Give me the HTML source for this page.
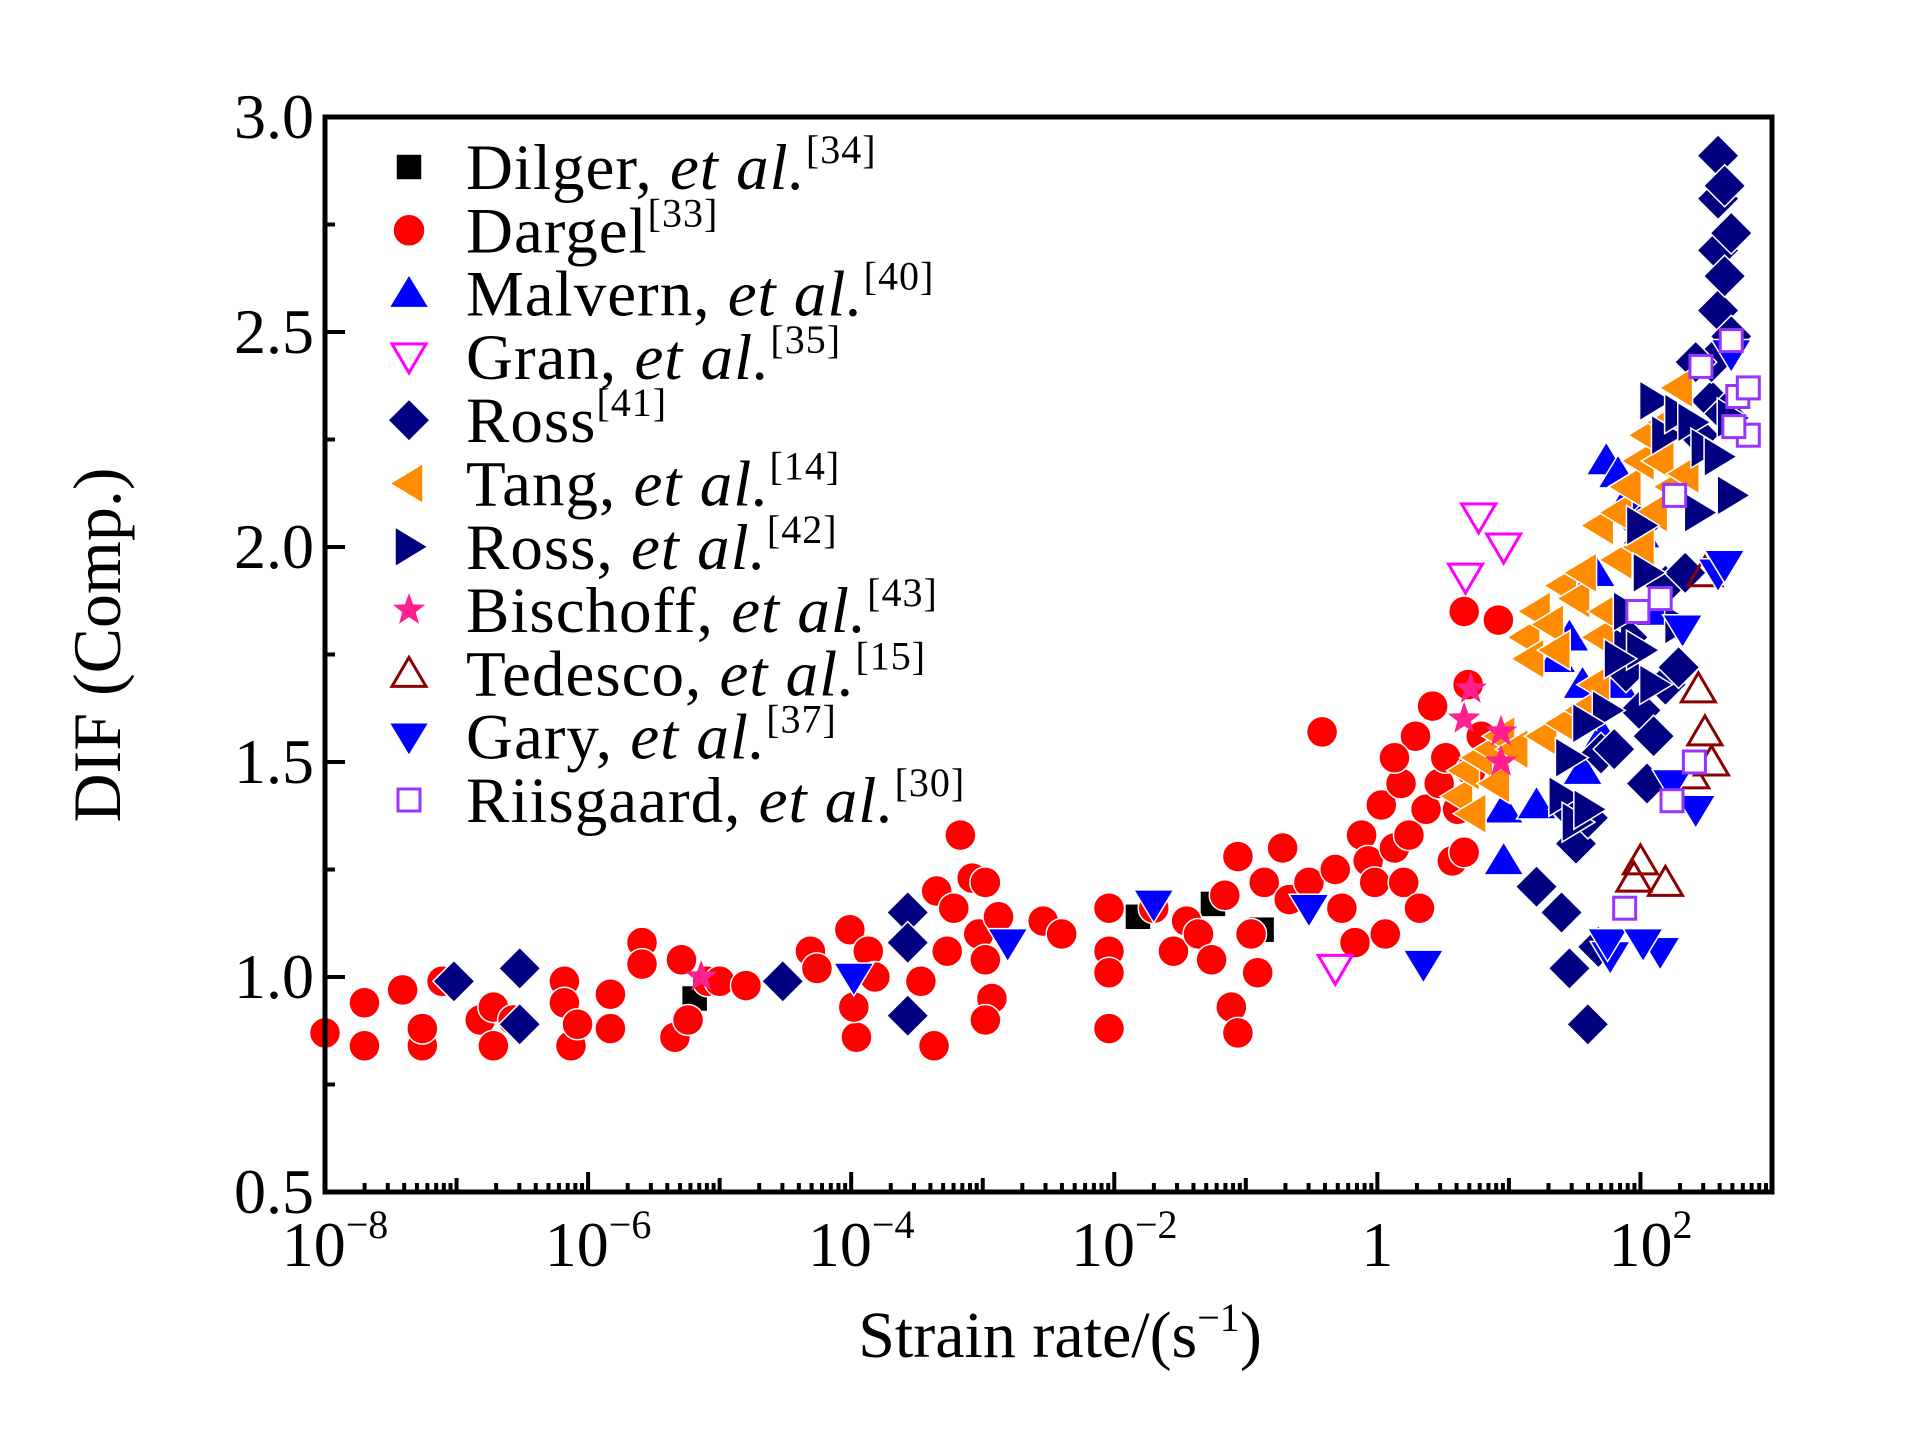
<!DOCTYPE html>
<html><head><meta charset="utf-8"><style>
html,body{margin:0;padding:0;background:#fff;}
svg text{font-family:"Liberation Serif",serif;fill:#000;}
</style></head><body>
<svg id="chart" width="1923" height="1429" viewBox="0 0 1923 1429" xmlns="http://www.w3.org/2000/svg">
<g id="marks"></g>
<g id="axes"></g>
<g id="legend"></g>
<text x="1060" y="1357" font-size="66" text-anchor="middle">Strain rate/(s<tspan dy="-26" font-size="40">−1</tspan><tspan dy="26">)</tspan></text>
<text transform="translate(120,645) rotate(-90)" font-size="68" text-anchor="middle">DIF (Comp.)</text>
</svg>
<script>
// ---- data (x = log10 strain rate, y = DIF) ----
const seriesNames = ["Dilger","Dargel","Malvern","Gran","Ross","Tang","RossEtAl","Bischoff","Tedesco","Gary","Riisgaard"];
const dilgerX=[-5.19,-1.82,-1.25,-0.88];
const dilgerY=[0.95,1.14,1.17,1.11];
const dargelX=[-8,-7.7,-7.7,-7.41,-7.26,-7.26,-7.11,-6.82,-6.72,-6.72,-6.57,-6.18,-6.18,-6.13,-6.08,-5.83,-5.83,-5.59,-5.59,-5.29,-5.34,-5.24,-5.09,-5.0,-4.8,-4.31,-4.26,-4.01,-3.96,-3.98,-3.87,-3.82,-3.47,-3.37,-3.35,-3.17,-3.22,-3.08,-2.98,-3.27,-3.03,-2.98,-2.93,-2.98,-2.88,-2.54,-2.4,-2.04,-2.04,-2.04,-2.04,-1.7,-1.55,-1.45,-1.36,-1.26,-1.16,-1.06,-1.11,-1.06,-0.96,-0.91,-0.86,-0.72,-0.67,-0.42,-0.52,-0.32,-0.27,-0.17,-0.12,-0.07,-0.02,0.03,0.13,0.18,0.2,0.24,0.29,0.32,0.37,0.42,0.47,0.52,0.57,0.61,0.66,0.69,0.71,0.79,0.92,0.66,0.06,0.13];
const dargelY=[0.87,0.84,0.94,0.97,0.84,0.88,0.99,0.9,0.84,0.93,0.9,0.99,0.94,0.84,0.89,0.88,0.96,1.08,1.03,1.04,0.86,0.9,0.99,0.99,0.98,1.06,1.02,1.11,0.86,0.93,1.06,1.0,0.99,0.84,1.2,1.33,1.16,1.23,1.22,1.06,1.1,1.04,0.95,0.9,1.14,1.13,1.1,0.88,1.06,1.01,1.16,1.16,1.06,1.13,1.1,1.04,1.19,1.28,0.93,0.87,1.1,1.01,1.22,1.3,1.18,1.57,1.22,1.25,1.16,1.08,1.33,1.27,1.22,1.4,1.3,1.45,1.22,1.33,1.56,1.16,1.39,1.63,1.45,1.51,1.27,1.39,1.85,1.68,1.48,1.56,1.83,1.29,1.1,1.51];
const malvernX=[0.96,0.96,1.21,1.56,1.66,1.74,1.83,1.9,2.0,2.1,1.56,1.71,1.83,1.36,1.46];
const malvernY=[1.27,1.39,1.4,1.68,1.94,2.2,2.17,2.11,2.03,1.85,1.48,1.56,1.68,1.74,1.79];
const granX=[-0.32,0.67,0.77,0.96];
const granY=[1.02,1.93,2.07,2.0];
const rossX=[-7.02,-6.52,-6.52,-4.52,-3.57,-3.57,-3.57,1.21,1.4,1.46,1.6,1.68,1.46,1.51,1.6,1.7,1.8,1.89,2.0,2.1,2.05,2.19,2.29,2.19,2.34,2.44,2.54,2.59,2.59,2.59,2.59,2.64,2.69,2.69,2.54,2.64,2.64,2.42,2.0,1.9];
const rossY=[0.99,1.02,0.89,0.99,1.15,1.08,0.91,1.21,1.15,1.02,0.89,1.07,1.39,1.31,1.37,1.52,1.53,1.71,1.62,1.56,1.45,1.68,1.72,1.91,1.94,2.26,2.34,2.55,2.69,2.81,2.91,2.63,2.49,2.73,2.43,2.84,2.31,2.43,2.05,1.79];
const tangX=[0.62,0.67,0.77,0.87,0.94,1.04,1.13,1.16,1.21,1.31,1.36,1.41,1.51,1.56,1.26,1.41,1.56,1.66,1.69,1.74,1.83,1.69,1.83,1.9,2.0,2.05,2.15,2.19,2.29,2.1,2.24,2.34,2.0,0.9,0.72];
const tangY=[1.42,1.48,1.51,1.53,1.56,1.53,1.79,1.74,1.85,1.82,1.76,1.91,1.88,1.94,1.56,1.59,1.62,1.68,1.79,1.85,1.97,2.05,2.08,2.14,2.2,2.26,2.2,2.29,2.37,2.08,2.14,2.17,2.0,1.45,1.38];
const rossEtAlX=[2.1,2.19,2.29,2.39,2.49,2.59,2.69,2.69,2.0,2.05,1.9,2.0,1.83,1.74,1.59,1.46,1.41,1.51,1.6,2.1,2.29,2.44];
const rossEtAlY=[2.34,2.26,2.31,2.29,2.23,2.21,2.3,2.12,2.05,1.94,1.85,1.76,1.74,1.62,1.59,1.51,1.42,1.36,1.39,1.68,1.82,2.08];
const bischoffX=[-5.14,0.71,0.66,0.94,0.94];
const bischoffY=[1.0,1.67,1.6,1.57,1.5];
const tedescoX=[2.44,2.49,2.54,2.39,2.0,1.95,2.19,2.49];
const tedescoY=[1.67,1.57,1.5,1.47,1.27,1.23,1.22,1.94];
const garyX=[-3.98,-2.81,-1.7,-0.52,0.35,1.77,2.15,1.75,2.02,2.24,2.42,2.59,2.64,2.69,2.32];
const garyY=[1.0,1.08,1.17,1.16,1.03,1.05,1.06,1.08,1.08,1.45,1.39,1.94,1.96,2.45,1.81];
const riisX=[1.88,1.98,2.15,2.26,2.24,2.41,2.46,2.69,2.74,2.82,2.82,2.71];
const riisY=[1.16,1.85,1.88,2.12,1.41,1.5,2.42,2.48,2.35,2.37,2.26,2.28];
const xTickExp=[-8,-6,-4,-2,0,2];
const yTicks=[0.5,1.0,1.5,2.0,2.5,3.0];
const legendLabels=[["Dilger, ","et al.","[34]"],["Dargel","","[33]"],["Malvern, ","et al.","[40]"],["Gran, ","et al.","[35]"],["Ross","","[41]"],["Tang, ","et al.","[14]"],["Ross, ","et al.","[42]"],["Bischoff, ","et al.","[43]"],["Tedesco, ","et al.","[15]"],["Gary, ","et al.","[37]"],["Riisgaard, ","et al.","[30]"]];

// ---- scales ----
const L=325,R=1772,T=117,B=1192,XMIN=-8,XMAX=3,YMIN=0.5,YMAX=3.0;
const sx=v=>L+(v-XMIN)/(XMAX-XMIN)*(R-L);
const sy=v=>B-(v-YMIN)/(YMAX-YMIN)*(B-T);
const NS="http://www.w3.org/2000/svg";
function mk(tag,attrs,parent){const e=document.createElementNS(NS,tag);for(const k in attrs)e.setAttribute(k,attrs[k]);parent.appendChild(e);return e;}

function marker(type,cx,cy,parent){
  let e;const W="#fff";
  if(type==="square"){e=mk("rect",{x:cx-13,y:cy-13,width:26,height:26,fill:"#000",stroke:W,"stroke-width":1.5},parent);}
  else if(type==="circle"){e=mk("circle",{cx:cx,cy:cy,r:15.5,fill:"#ff0000",stroke:W,"stroke-width":1.5},parent);}
  else if(type==="up"){e=mk("polygon",{points:`${cx},${cy-19} ${cx+20},${cy+14} ${cx-20},${cy+14}`,fill:"#0000ff",stroke:W,"stroke-width":1.5},parent);}
  else if(type==="granDown"){e=mk("polygon",{points:`${cx-17},${cy-13} ${cx+17},${cy-13} ${cx},${cy+16}`,fill:"none",stroke:"#ff00ff","stroke-width":3},parent);}
  else if(type==="diamond"){e=mk("polygon",{points:`${cx},${cy-21} ${cx+21},${cy} ${cx},${cy+21} ${cx-21},${cy}`,fill:"#000080",stroke:W,"stroke-width":1.5},parent);}
  else if(type==="left"){e=mk("polygon",{points:`${cx-19},${cy} ${cx+14},${cy-20} ${cx+14},${cy+20}`,fill:"#ff8c00",stroke:W,"stroke-width":1.5},parent);}
  else if(type==="right"){e=mk("polygon",{points:`${cx+19},${cy} ${cx-14},${cy-20} ${cx-14},${cy+20}`,fill:"#000080",stroke:W,"stroke-width":1.5},parent);}
  else if(type==="star"){let p=[];for(let i=0;i<10;i++){const r=i%2?7:17,a=-Math.PI/2+i*Math.PI/5;p.push((cx+r*Math.cos(a)).toFixed(1)+","+(cy+r*Math.sin(a)).toFixed(1));}e=mk("polygon",{points:p.join(" "),fill:"#ff1f8f"},parent);}
  else if(type==="tedesco"){e=mk("polygon",{points:`${cx},${cy-16} ${cx+17},${cy+13} ${cx-17},${cy+13}`,fill:"none",stroke:"#8b0000","stroke-width":3},parent);}
  else if(type==="down"){e=mk("polygon",{points:`${cx-20},${cy-14} ${cx+20},${cy-14} ${cx},${cy+19}`,fill:"#0000ff",stroke:W,"stroke-width":1.5},parent);}
  else if(type==="riis"){e=mk("rect",{x:cx-11,y:cy-11,width:22,height:22,fill:"#fff",stroke:"#9933ff","stroke-width":3},parent);}
  return e;
}
const series=[[dilgerX,dilgerY,"square"],[dargelX,dargelY,"circle"],[malvernX,malvernY,"up"],[granX,granY,"granDown"],[rossX,rossY,"diamond"],[tangX,tangY,"left"],[rossEtAlX,rossEtAlY,"right"],[bischoffX,bischoffY,"star"],[tedescoX,tedescoY,"tedesco"],[garyX,garyY,"down"],[riisX,riisY,"riis"]];
const marks=document.getElementById("marks");
series.forEach((s,si)=>{
  const g=mk("g",{},marks);
  
  
  s[0].forEach((xv,i)=>{
    const m=marker(s[2],sx(xv),sy(s[1][i]),g);
    
    
  });
});

// ---- axes ----
const ax=document.getElementById("axes");
const frame=mk("rect",{x:L,y:T,width:R-L,height:B-T,fill:"none",stroke:"#000","stroke-width":5},ax);


for(let d=XMIN;d<XMAX;d++){
  for(let k=1;k<10;k++){
    const x=sx(d+Math.log10(k));
    const len=k===1?(d%2===0?20:14):9;
    const t=mk("line",{x1:x,x2:x,y1:B,y2:B-len,stroke:"#000","stroke-width":4},ax);
    
    
  }
}
xTickExp.forEach(e=>{
  const x=sx(e);
  const t=mk("text",{x:x,y:1266,"font-size":64,"text-anchor":"middle"},ax);
  
  
  if(e===0){t.textContent="1";}
  else{t.innerHTML=`10<tspan dy="-28" font-size="40">${e<0?"−":""}${Math.abs(e)}</tspan>`;t.setAttribute("x",x+10);}
});
for(let v=YMIN;v<=YMAX+1e-9;v+=0.25){
  const y=sy(v);const major=Math.abs(v*2-Math.round(v*2))<1e-6;
  const t=mk("line",{x1:L,x2:L+(major?20:10),y1:y,y2:y,stroke:"#000","stroke-width":4},ax);
  
  
}
yTicks.forEach(v=>{
  const t=mk("text",{x:314,y:sy(v)+21,"font-size":64,"text-anchor":"end"},ax);
  
  
  t.textContent=v.toFixed(1);
});

// ---- legend ----
const lg=document.getElementById("legend");
const lt=["square","circle","up","granDown","diamond","left","right","star","tedesco","down","riis"];
legendLabels.forEach((lab,i)=>{
  const y=167+i*63.3;
  const g=mk("g",{},lg);
  
  
  const m=marker(lt[i],409,y,g);
  if(lt[i]==="circle")m.setAttribute("r",16);
  const t=mk("text",{x:466,y:y+22,"font-size":65,"letter-spacing":"1"},g);
  t.innerHTML=`${lab[0]}${lab[1]?`<tspan font-style="italic">${lab[1]}</tspan>`:""}<tspan dy="-26" font-size="40">${lab[2]}</tspan>`;
});
</script>
</body></html>
